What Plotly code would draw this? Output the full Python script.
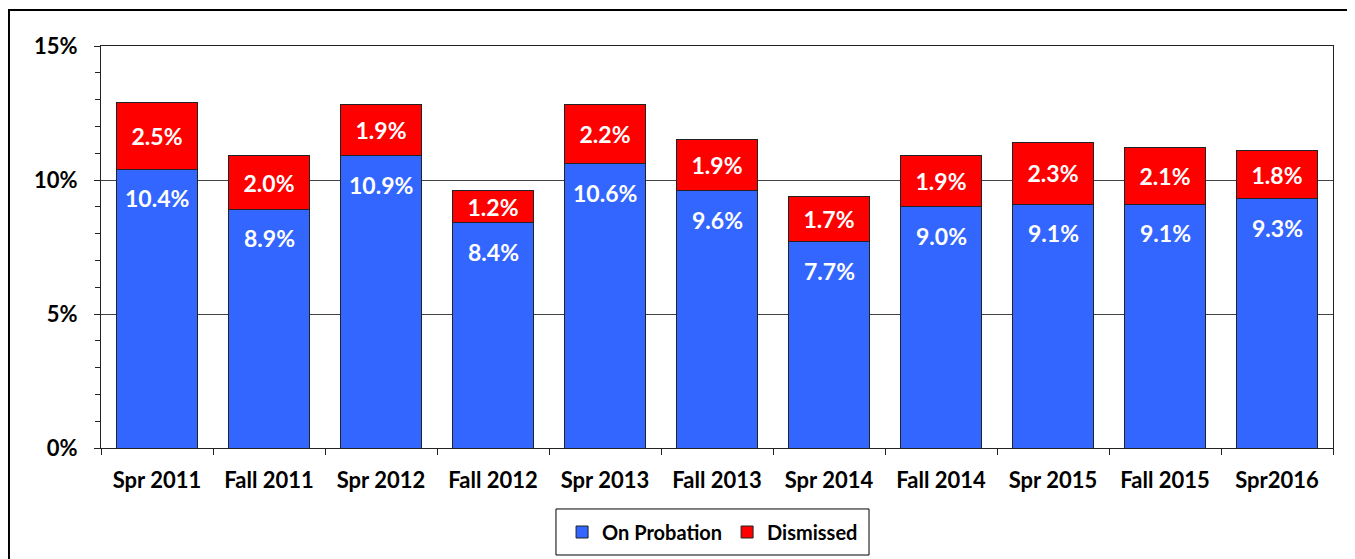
import plotly.graph_objects as go

categories = ["Spr 2011", "Fall 2011", "Spr 2012", "Fall 2012", "Spr 2013", "Fall 2013",
              "Spr 2014", "Fall 2014", "Spr 2015", "Fall 2015", "Spr2016"]
on_probation = [10.4, 8.9, 10.9, 8.4, 10.6, 9.6, 7.7, 9.0, 9.1, 9.1, 9.3]
dismissed = [2.5, 2.0, 1.9, 1.2, 2.2, 1.9, 1.7, 1.9, 2.3, 2.1, 1.8]
y_ticks = [0, 5, 10, 15]
y_tick_labels = ["0%", "5%", "10%", "15%"]

FONT = "Lato"
BLUE = "#3366FF"
RED = "#FF0000"

fig = go.Figure()
fig.add_trace(go.Bar(
    x=categories, y=on_probation, name="On Probation",
    marker=dict(color=BLUE, line=dict(color="#222222", width=1)),
    hoverinfo="x+y",
))
fig.add_trace(go.Bar(
    x=categories, y=dismissed, name="Dismissed",
    marker=dict(color=RED, line=dict(color="#222222", width=1)),
    text=[f"{v:.1f}%" for v in dismissed], textposition="inside",
    insidetextanchor="middle",
    textfont=dict(family=FONT, size=23, color="white", weight=700),
))

annotations = []
for c, v in zip(categories, on_probation):
    annotations.append(dict(
        x=c, y=v, xref="x", yref="y", text=f"{v:.1f}%", showarrow=False,
        yshift=-29, font=dict(family=FONT, size=23, color="white", weight=700),
    ))

fig.update_layout(
    barmode="stack", bargap=0.28,
    width=1347, height=551,
    margin=dict(l=93, r=22, t=38, b=111, autoexpand=False),
    paper_bgcolor="white", plot_bgcolor="white",
    uniformtext=dict(minsize=23, mode="show"),
    font=dict(family=FONT, color="black"),
    annotations=annotations,
    showlegend=True,
    legend=dict(
        orientation="h", x=0.4964, xanchor="center",
        yref="container", y=0.049, yanchor="middle",
        borderwidth=0, bgcolor="rgba(0,0,0,0)",
        font=dict(family=FONT, size=20, color="black", weight=700),
        itemwidth=30, traceorder="normal",
    ),
    xaxis=dict(
        type="category", showline=True, linecolor="#222222", linewidth=1, mirror=True,
        ticks="outside", tickson="boundaries", ticklen=6, tickcolor="#222222",
        ticklabelstandoff=13, automargin=False,
        tickfont=dict(family=FONT, size=22, color="black", weight=700),
        showgrid=False,
    ),
    yaxis=dict(
        range=[0, 15], tickvals=y_ticks, ticktext=y_tick_labels,
        showline=True, linecolor="#222222", linewidth=1, mirror=True,
        ticks="outside", ticklen=6, tickcolor="#222222",
        ticklabelstandoff=12, automargin=False,
        minor=dict(dtick=1, ticks="outside", ticklen=5, tickcolor="#222222", showgrid=False),
        showgrid=True, gridcolor="#444444", gridwidth=1,
        tickfont=dict(family=FONT, size=22, color="black", weight=700),
        zeroline=False,
    ),
    shapes=[
        dict(type="rect", xref="paper", yref="paper",
             x0=-0.0747, x1=1.0146, y0=-0.4, y1=1.0896,
             line=dict(color="black", width=2), fillcolor="rgba(0,0,0,0)", layer="below"),
        dict(type="rect", xref="paper", yref="paper",
             x0=0.3693, x1=0.6234, y0=-0.2662, y1=-0.1517,
             line=dict(color="black", width=1), fillcolor="rgba(0,0,0,0)", layer="below"),
    ],
)

fig.write_html("out.html")
